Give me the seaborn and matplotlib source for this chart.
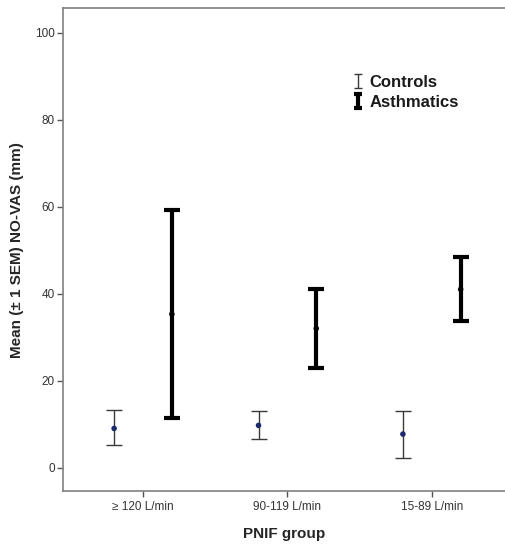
import numpy as np
import pandas as pd
import matplotlib
matplotlib.use('Agg')
import matplotlib.pyplot as plt
import seaborn as sns
from matplotlib.legend_handler import HandlerErrorbar

# summary stats (mean, lower, upper = mean -/+ 1 SEM)
groups = ['\u2265 120 L/min', '90-119 L/min', '15-89 L/min']
controls_mean = [9.0, 9.7, 7.7]
controls_low = [5.1, 6.5, 2.2]
controls_high = [13.2, 13.0, 12.9]
asthma_mean = [35.3, 32.0, 41.0]
asthma_low = [11.3, 22.9, 33.7]
asthma_high = [59.3, 41.0, 48.5]

sns.set_style('white')
plt.rcParams['font.family'] = ['Liberation Sans', 'DejaVu Sans']

df = pd.concat([
    pd.DataFrame({'group': groups, 'status': 'Controls', 'mean': controls_mean,
                  'low': controls_low, 'high': controls_high}),
    pd.DataFrame({'group': groups, 'status': 'Asthmatics', 'mean': asthma_mean,
                  'low': asthma_low, 'high': asthma_high}),
], ignore_index=True)
offsets = {'Controls': -0.2, 'Asthmatics': 0.2}
df['x'] = pd.Categorical(df['group'], categories=groups).codes + df['status'].map(offsets)

fig = plt.figure(figsize=(5.06, 5.44), dpi=100)
ax = fig.add_axes([0.1245, 0.0974, 0.8755, 0.8876])

styles = {
    'Controls':   dict(color='#3a3a3a', elinewidth=1.0, capsize=6, capthick=1.0),
    'Asthmatics': dict(color='black', elinewidth=3.0, capsize=5.5, capthick=3.0),
}
handles = []
for status, sub in df.groupby('status', sort=False):
    ax.errorbar(sub['x'], sub['mean'],
                yerr=[sub['mean'] - sub['low'], sub['high'] - sub['mean']],
                fmt='none', zorder=2, **styles[status])
    # smaller-capped proxy just for the legend
    legend_style = dict(styles[status], capsize=3)
    handles.append(ax.errorbar([np.nan], [np.nan], yerr=[1], fmt='none',
                               label=status, **legend_style))

sns.scatterplot(data=df, x='x', y='mean', hue='status',
                palette={'Controls': '#1a2a6c', 'Asthmatics': 'black'},
                s=16, edgecolor='none', legend=False, ax=ax, zorder=3)

ax.set_xlim(-0.554, 2.514)
ax.set_ylim(-5.4, 105.7)
ax.set_xticks(range(len(groups)))
ax.set_xticklabels(groups)
ax.set_yticks([0, 20, 40, 60, 80, 100])
ax.tick_params(axis='both', direction='out', length=4, width=1, color='#555555',
               labelsize=8.5, labelcolor='#333333', pad=2, bottom=True, left=True)
ax.tick_params(axis='x', pad=3)
for side in ['left', 'bottom', 'top']:
    ax.spines[side].set_color('#808080')
    ax.spines[side].set_linewidth(1.2)
ax.spines['right'].set_visible(False)

ax.set_xlabel('PNIF group', fontsize=11, fontweight='bold', labelpad=10)
ax.set_ylabel('Mean (\u00b1 1 SEM) NO-VAS (mm)', fontsize=11, fontweight='bold', labelpad=8)

leg = ax.legend(handles=handles, loc='upper left', bbox_to_anchor=(0.634, 0.879),
                frameon=False, prop={'size': 12, 'weight': 'bold'},
                handlelength=0.7, handletextpad=0.32, labelspacing=0.3, borderpad=0,
                handler_map={type(handles[0]): HandlerErrorbar(yerr_size=0.42)})
for t in leg.get_texts():
    t.set_color('#1a1a1a')

fig.savefig('out.png', dpi=100)
